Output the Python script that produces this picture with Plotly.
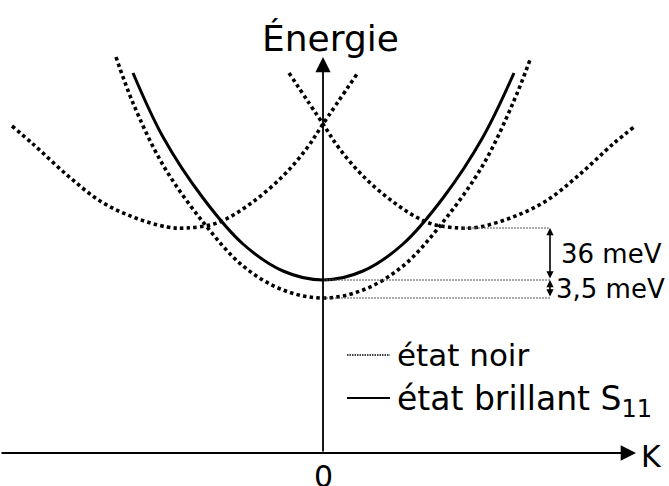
import plotly.graph_objects as go

# ---- data (schematic units: K horizontal, E vertical, axis origin at 0,0) ----
bright_K = [-190, -160, -120, -80, -40, 0, 40, 80, 120, 160, 191]
bright_E = [380, 316, 255, 209, 182, 173, 182, 209, 255, 316, 380]

dark_center_K = [-207, -190, -160, -120, -80, -40, 0, 40, 80, 120, 160, 190, 207]
dark_center_E = [396, 350, 288, 231, 187, 163, 155, 163, 187, 231, 288, 350, 393]

dark_left_K = [-311, -290, -256, -223, -190, -156, -137, -106, -73, -40, -16, 0, 34]
dark_left_E = [327, 309, 278, 252, 236, 226, 225, 230, 249, 277, 305, 329, 379]

dark_right_K = [-34, 0, 16, 40, 73, 106, 137, 156, 190, 223, 256, 290, 311]
dark_right_E = [380, 329, 305, 277, 249, 230, 225, 226, 236, 252, 278, 309, 326]

axis_labels = {"x": "K", "y": "Énergie", "origin": "0"}
gap_labels = ["36 meV", "3,5 meV"]
legend_labels = ["état noir", "état brillant S<sub><span style='font-size:24px'>11</span></sub>"]

# derived levels
E_dark_side_min = min(dark_right_E)
E_bright_min = min(bright_E)
E_dark_min = min(dark_center_E)

FONT = "DejaVu Sans"
DOT = "3.5px,3.2px"

fig = go.Figure()
for kk, ee in [(dark_left_K, dark_left_E), (dark_center_K, dark_center_E), (dark_right_K, dark_right_E)]:
    fig.add_trace(go.Scatter(x=kk, y=ee, mode="lines", line=dict(color="black", width=3.6, dash=DOT, shape="spline"),
                             showlegend=False, hoverinfo="skip"))
fig.add_trace(go.Scatter(x=bright_K, y=bright_E, mode="lines", line=dict(color="black", width=3, shape="spline"),
                         showlegend=False, hoverinfo="skip"))

X_MIN, X_MAX = -323, 346
Y_MIN, Y_MAX = -33, 453
x_meas = 227

shapes = []
# guide lines for energy gaps
shapes.append(dict(type="line", x0=140, x1=x_meas, y0=E_dark_side_min, y1=E_dark_side_min,
                   line=dict(color="#555", width=1, dash="2px,1px")))
shapes.append(dict(type="line", x0=0, x1=x_meas, y0=E_bright_min, y1=E_bright_min,
                   line=dict(color="#555", width=1, dash="2px,1px")))
shapes.append(dict(type="line", x0=0, x1=x_meas, y0=E_dark_min, y1=E_dark_min,
                   line=dict(color="#555", width=1, dash="2px,1px")))
# legend samples
shapes.append(dict(type="line", x0=24, x1=67, y0=98, y1=98, line=dict(color="black", width=1.6, dash="1.5px,1px")))
shapes.append(dict(type="line", x0=24, x1=67, y0=55, y1=55, line=dict(color="black", width=2)))

annotations = []
# axes with arrows
annotations.append(dict(x=313, y=0, ax=X_MIN, ay=0, xref="x", yref="y", axref="x", ayref="y", text="",
                        showarrow=True, arrowhead=2, arrowsize=1.7, arrowwidth=1.8, arrowcolor="black"))
annotations.append(dict(x=0, y=396, ax=0, ay=0, xref="x", yref="y", axref="x", ayref="y", text="",
                        showarrow=True, arrowhead=2, arrowsize=1.7, arrowwidth=1.8, arrowcolor="black"))
# gap arrows (double headed)
annotations.append(dict(x=x_meas, y=E_dark_side_min, ax=x_meas, ay=E_bright_min, xref="x", yref="y", axref="x", ayref="y",
                        text="", showarrow=True, arrowhead=2, startarrowhead=2, arrowside="end+start",
                        arrowsize=0.9, startarrowsize=0.9, arrowwidth=1.6, arrowcolor="black"))
annotations.append(dict(x=x_meas, y=E_bright_min, ax=x_meas, ay=E_dark_min, xref="x", yref="y", axref="x", ayref="y",
                        text="", showarrow=True, arrowhead=2, startarrowhead=2, arrowside="end+start",
                        arrowsize=0.9, startarrowsize=0.9, arrowwidth=1.6, arrowcolor="black"))
# text
annotations.append(dict(x=7, y=415, text=axis_labels["y"], showarrow=False, xref="x", yref="y",
                        font=dict(family=FONT, size=36, color="black"), xanchor="center", yanchor="middle"))
annotations.append(dict(x=328, y=-3, text=axis_labels["x"], showarrow=False, xref="x", yref="y",
                        font=dict(family=FONT, size=30, color="black"), xanchor="center", yanchor="middle"))
annotations.append(dict(x=0, y=-23, text=axis_labels["origin"], showarrow=False, xref="x", yref="y",
                        font=dict(family=FONT, size=30, color="black"), xanchor="center", yanchor="middle"))
annotations.append(dict(x=236, y=199, text=gap_labels[0], showarrow=False, xref="x", yref="y",
                        font=dict(family=FONT, size=26, color="black"), xanchor="left", yanchor="middle"))
annotations.append(dict(x=231, y=164, text=gap_labels[1], showarrow=False, xref="x", yref="y",
                        font=dict(family=FONT, size=26, color="black"), xanchor="left", yanchor="middle"))
annotations.append(dict(x=72, y=98, text=legend_labels[0], showarrow=False, xref="x", yref="y",
                        font=dict(family=FONT, size=31, color="black"), xanchor="left", yanchor="middle"))
annotations.append(dict(x=72, y=52, text=legend_labels[1], showarrow=False, xref="x", yref="y",
                        font=dict(family=FONT, size=33, color="black"), xanchor="left", yanchor="middle"))

fig.update_layout(
    width=669, height=486,
    margin=dict(l=0, r=0, t=0, b=0),
    plot_bgcolor="white", paper_bgcolor="white",
    xaxis=dict(range=[X_MIN, X_MAX], visible=False, fixedrange=True),
    yaxis=dict(range=[Y_MIN, Y_MAX], visible=False, fixedrange=True),
    shapes=shapes, annotations=annotations,
    showlegend=False,
)
fig.write_html("out.html", config={"displayModeBar": False},
               post_script="document.body.style.margin='0px';document.body.style.overflow='hidden';")
